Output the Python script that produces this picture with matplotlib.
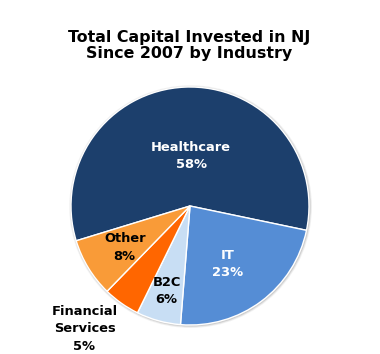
import numpy as np
import matplotlib
matplotlib.use("Agg")
import matplotlib.pyplot as plt
from matplotlib.patches import Circle

# data
industries = ["Healthcare", "IT", "B2C", "Financial\nServices", "Other"]
shares = [58, 23, 6, 5, 8]
colors = ["#1C3F6C", "#558DD5", "#C8DEF4", "#FF6600", "#F99B38"]
text_colors = ["white", "white", "black", "black", "black"]

# label placement (fraction of radius, angle tweak in degrees)
label_dist = [0.42, 0.58, 0.74, 1.36, 0.65]
label_tweak = [-4, -4, 0, -5.5, 1]

W, H = 380, 354
fig = plt.figure(figsize=(W / 100, H / 100), dpi=100)
ax = fig.add_axes([0, 0, 1, 1])

cx, cy, R = 190, H - 206, 119

# soft shadow ring behind the pie
for i, a in enumerate([0.10, 0.15, 0.25]):
    ax.add_patch(Circle((cx + 0.6, cy - 0.6), R + 2.4 - i * 0.8, color="#888888",
                        alpha=a, lw=0, zorder=0))

wedges, _ = ax.pie(shares, colors=colors, startangle=197, counterclock=False,
                   center=(cx, cy), radius=R,
                   wedgeprops=dict(edgecolor="white", linewidth=1.0))
for w in wedges:
    w.set_zorder(2)

for w, name, s, d, tw, tc in zip(wedges, industries, shares, label_dist,
                                 label_tweak, text_colors):
    ang = np.deg2rad((w.theta1 + w.theta2) / 2 + tw)
    x = cx + d * R * np.cos(ang)
    y = cy + d * R * np.sin(ang)
    ax.text(x, y, f"{name}\n{s}%", ha="center", va="center", color=tc,
            fontsize=9.4, fontweight="bold", linespacing=1.45, zorder=5)

ax.text(W / 2 - 1, H - 45.5, "Total Capital Invested in NJ\nSince 2007 by Industry",
        ha="center", va="center", fontsize=11.4, fontweight="bold",
        linespacing=1.1, color="black")

ax.set_xlim(0, W)
ax.set_ylim(0, H)
ax.set_aspect("equal")
ax.axis("off")

fig.savefig("out.png", dpi=100, facecolor="white")
